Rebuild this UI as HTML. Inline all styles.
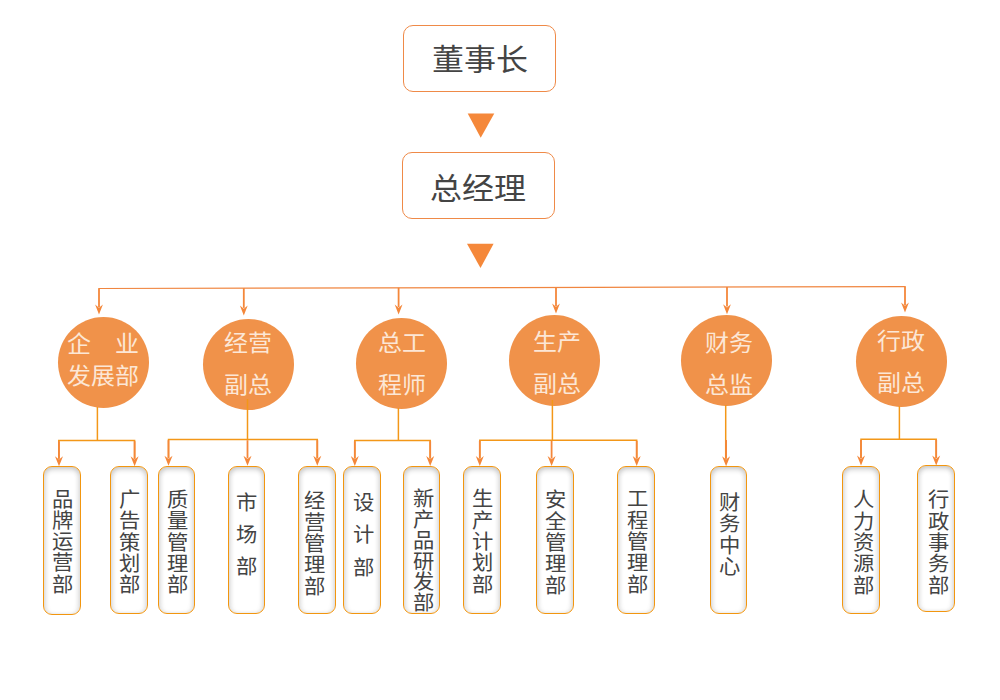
<!DOCTYPE html>
<html lang="zh-CN"><head><meta charset="utf-8">
<style>
html,body{margin:0;padding:0;background:#fff;}
body{width:1000px;height:700px;position:relative;overflow:hidden;font-family:"Liberation Serif",serif;}
.big{position:absolute;box-sizing:border-box;border:1.5px solid #EF8A48;border-radius:10px;background:#fff;}
.bt{position:absolute;left:0;right:0;text-align:center;font-size:32px;line-height:32px;color:#444;white-space:nowrap;}
.circ{position:absolute;border-radius:50%;background:#F0924A;}
.ct{position:absolute;color:#FCE7D6;font-size:24px;line-height:24px;white-space:nowrap;text-align:center;}
.box{position:absolute;box-sizing:border-box;border:1.5px solid #F2960F;border-radius:9px;background:#fff;
 box-shadow:inset 0 3px 5px rgba(0,0,0,0.16), inset 3px 0 4px rgba(0,0,0,0.06), inset -3px 0 4px rgba(0,0,0,0.06);}
.vt{position:absolute;text-align:center;font-size:21.33px;color:#444;}
.vt span{display:block;transform:scaleY(0.94);}
.ct span{display:block;transform:scaleY(0.93);}
.bt span{display:block;transform:scaleY(0.93);}
svg{position:absolute;left:0;top:0;}
</style></head><body>

<svg width="1000" height="700" viewBox="0 0 1000 700"><line x1="98.4" y1="288.5" x2="905.6" y2="286.6" stroke="#F08640" stroke-width="1.2"/><line x1="99" y1="288.50" x2="99" y2="307.00" stroke="#F4873A" stroke-width="1.8"/><path d="M95.10,304.60 L99.00,314.60 L102.90,304.60 L99.00,307.80 Z" fill="#F4873A"/><line x1="243.8" y1="288.16" x2="243.8" y2="307.90" stroke="#F4873A" stroke-width="1.8"/><path d="M239.90,305.50 L243.80,315.50 L247.70,305.50 L243.80,308.70 Z" fill="#F4873A"/><line x1="398.6" y1="287.79" x2="398.6" y2="307.00" stroke="#F4873A" stroke-width="1.8"/><path d="M394.70,304.60 L398.60,314.60 L402.50,304.60 L398.60,307.80 Z" fill="#F4873A"/><line x1="556" y1="287.42" x2="556" y2="306.00" stroke="#F4873A" stroke-width="1.8"/><path d="M552.10,303.60 L556.00,313.60 L559.90,303.60 L556.00,306.80 Z" fill="#F4873A"/><line x1="727" y1="287.02" x2="727" y2="306.60" stroke="#F4873A" stroke-width="1.8"/><path d="M723.10,304.20 L727.00,314.20 L730.90,304.20 L727.00,307.40 Z" fill="#F4873A"/><line x1="905" y1="286.60" x2="905" y2="305.00" stroke="#F4873A" stroke-width="1.8"/><path d="M901.10,302.60 L905.00,312.60 L908.90,302.60 L905.00,305.80 Z" fill="#F4873A"/><polygon points="467.7,113.5 494.3,113.5 480.7,137.8" fill="#F5883A"/><polygon points="467,243.8 493.6,243.8 480.5,268" fill="#F5883A"/></svg>
<div class="big" style="left:403.4px;top:25.2px;width:152.4px;height:66.4px"><div class="bt" style="top:18px"><span>董事长</span></div></div>
<div class="big" style="left:402.2px;top:152.2px;width:152.6px;height:66.4px"><div class="bt" style="top:20px"><span>总经理</span></div></div>
<div class="circ" style="left:58.0px;top:317.0px;width:91.0px;height:91.0px"></div>
<div class="ct" style="left:63.2px;width:80px;top:328.5px;line-height:32px"><span>企&nbsp;&nbsp;&nbsp;&nbsp;业</span><span>发展部</span></div>
<div class="circ" style="left:202.5px;top:319.0px;width:91.0px;height:91.0px"></div>
<div class="ct" style="left:207.8px;width:80px;top:323.1px;line-height:42px"><span>经营</span><span>副总</span></div>
<div class="circ" style="left:356.0px;top:318.0px;width:91.0px;height:91.0px"></div>
<div class="ct" style="left:362.0px;width:80px;top:322.8px;line-height:42px"><span>总工</span><span>程师</span></div>
<div class="circ" style="left:509.0px;top:315.0px;width:91.0px;height:91.0px"></div>
<div class="ct" style="left:516.6px;width:80px;top:322.1px;line-height:42px"><span>生产</span><span>副总</span></div>
<div class="circ" style="left:681.0px;top:315.0px;width:91.0px;height:91.0px"></div>
<div class="ct" style="left:689.0px;width:80px;top:322.7px;line-height:42px"><span>财务</span><span>总监</span></div>
<div class="circ" style="left:856.0px;top:316.0px;width:91.0px;height:91.0px"></div>
<div class="ct" style="left:860.5px;width:80px;top:321.0px;line-height:42px"><span>行政</span><span>副总</span></div>
<svg width="1000" height="700" viewBox="0 0 1000 700"><line x1="97.4" y1="407" x2="97.4" y2="440.6" stroke="#F39718" stroke-width="1.5"/><polyline points="58.8,458.8 58.8,440.6 134.6,440.6 134.6,458.8" fill="none" stroke="#F39718" stroke-width="1.5"/><line x1="59" y1="441.20000000000005" x2="59" y2="458.8" stroke="#F4873A" stroke-width="1.8"/><path d="M55.00,456.30 L59.00,466.30 L63.00,456.30 L59.00,459.50 Z" fill="#F4873A"/><line x1="134.6" y1="441.20000000000005" x2="134.6" y2="458.8" stroke="#F4873A" stroke-width="1.8"/><path d="M130.60,456.30 L134.60,466.30 L138.60,456.30 L134.60,459.50 Z" fill="#F4873A"/><line x1="247.5" y1="399" x2="247.5" y2="439.6" stroke="#F39718" stroke-width="1.5"/><polyline points="168.5,458.3 168.5,439.6 317.3,439.6 317.3,458.3" fill="none" stroke="#F39718" stroke-width="1.5"/><line x1="168.5" y1="440.20000000000005" x2="168.5" y2="458.3" stroke="#F4873A" stroke-width="1.8"/><path d="M164.50,455.80 L168.50,465.80 L172.50,455.80 L168.50,459.00 Z" fill="#F4873A"/><line x1="247.5" y1="440.20000000000005" x2="247.5" y2="458.3" stroke="#F4873A" stroke-width="1.8"/><path d="M243.50,455.80 L247.50,465.80 L251.50,455.80 L247.50,459.00 Z" fill="#F4873A"/><line x1="317.3" y1="440.20000000000005" x2="317.3" y2="458.3" stroke="#F4873A" stroke-width="1.8"/><path d="M313.30,455.80 L317.30,465.80 L321.30,455.80 L317.30,459.00 Z" fill="#F4873A"/><line x1="398.4" y1="408" x2="398.4" y2="440.6" stroke="#F39718" stroke-width="1.5"/><polyline points="354.8,458.5 354.8,440.6 430.2,440.6 430.2,458.5" fill="none" stroke="#F39718" stroke-width="1.5"/><line x1="354.8" y1="441.20000000000005" x2="354.8" y2="458.5" stroke="#F4873A" stroke-width="1.8"/><path d="M350.80,456.00 L354.80,466.00 L358.80,456.00 L354.80,459.20 Z" fill="#F4873A"/><line x1="430.2" y1="441.20000000000005" x2="430.2" y2="458.5" stroke="#F4873A" stroke-width="1.8"/><path d="M426.20,456.00 L430.20,466.00 L434.20,456.00 L430.20,459.20 Z" fill="#F4873A"/><line x1="552.4" y1="400" x2="552.4" y2="440.3" stroke="#F39718" stroke-width="1.5"/><polyline points="479.8,458.5 479.8,440.3 636.7,440.3 636.7,458.5" fill="none" stroke="#F39718" stroke-width="1.5"/><line x1="479.8" y1="440.90000000000003" x2="479.8" y2="458.5" stroke="#F4873A" stroke-width="1.8"/><path d="M475.80,456.00 L479.80,466.00 L483.80,456.00 L479.80,459.20 Z" fill="#F4873A"/><line x1="551.6" y1="440.90000000000003" x2="551.6" y2="458.5" stroke="#F4873A" stroke-width="1.8"/><path d="M547.60,456.00 L551.60,466.00 L555.60,456.00 L551.60,459.20 Z" fill="#F4873A"/><line x1="636.7" y1="440.90000000000003" x2="636.7" y2="458.5" stroke="#F4873A" stroke-width="1.8"/><path d="M632.70,456.00 L636.70,466.00 L640.70,456.00 L636.70,459.20 Z" fill="#F4873A"/><line x1="725.7" y1="405" x2="725.7" y2="458.7" stroke="#F39718" stroke-width="1.5"/><line x1="726.1" y1="440" x2="726.1" y2="458.7" stroke="#F4873A" stroke-width="1.8"/><path d="M722.10,456.20 L726.10,466.20 L730.10,456.20 L726.10,459.40 Z" fill="#F4873A"/><line x1="899.4" y1="406" x2="899.4" y2="439.3" stroke="#F39718" stroke-width="1.5"/><polyline points="861,458.0 861,439.3 936.2,439.3 936.2,458.0" fill="none" stroke="#F39718" stroke-width="1.5"/><line x1="861" y1="439.90000000000003" x2="861" y2="458.0" stroke="#F4873A" stroke-width="1.8"/><path d="M857.00,455.50 L861.00,465.50 L865.00,455.50 L861.00,458.70 Z" fill="#F4873A"/><line x1="936.2" y1="439.90000000000003" x2="936.2" y2="458.0" stroke="#F4873A" stroke-width="1.8"/><path d="M932.20,455.50 L936.20,465.50 L940.20,455.50 L936.20,458.70 Z" fill="#F4873A"/></svg>
<div class="box" style="left:43.3px;top:466.0px;width:37.3px;height:148.6px"></div>
<div class="vt" style="left:47.45px;width:30px;top:489.5px;line-height:21.33px"><span>品</span><span>牌</span><span>运</span><span>营</span><span>部</span></div>
<div class="box" style="left:110.4px;top:466.0px;width:37.2px;height:148.0px"></div>
<div class="vt" style="left:114.70px;width:30px;top:490.0px;line-height:21.33px"><span>广</span><span>告</span><span>策</span><span>划</span><span>部</span></div>
<div class="box" style="left:158.2px;top:466.0px;width:37.2px;height:148.0px"></div>
<div class="vt" style="left:162.30px;width:30px;top:490.1px;line-height:21.33px"><span>质</span><span>量</span><span>管</span><span>理</span><span>部</span></div>
<div class="box" style="left:227.8px;top:466.0px;width:37.0px;height:147.8px"></div>
<div class="vt" style="left:231.50px;width:30px;top:486.5px;line-height:32px"><span>市</span><span>场</span><span>部</span></div>
<div class="box" style="left:298.2px;top:466.0px;width:37.4px;height:148.0px"></div>
<div class="vt" style="left:299.80px;width:30px;top:491.4px;line-height:21.33px"><span>经</span><span>营</span><span>管</span><span>理</span><span>部</span></div>
<div class="box" style="left:343.2px;top:466.0px;width:37.4px;height:147.8px"></div>
<div class="vt" style="left:348.10px;width:30px;top:486.9px;line-height:32.5px"><span>设</span><span>计</span><span>部</span></div>
<div class="box" style="left:403.3px;top:466.0px;width:37.1px;height:147.6px"></div>
<div class="vt" style="left:408.55px;width:30px;top:488.8px;line-height:20.9px"><span>新</span><span>产</span><span>品</span><span>研</span><span>发</span><span>部</span></div>
<div class="box" style="left:463.2px;top:466.3px;width:37.4px;height:147.3px"></div>
<div class="vt" style="left:467.60px;width:30px;top:489.4px;line-height:21.33px"><span>生</span><span>产</span><span>计</span><span>划</span><span>部</span></div>
<div class="box" style="left:536.2px;top:466.3px;width:37.6px;height:147.3px"></div>
<div class="vt" style="left:540.70px;width:30px;top:490.2px;line-height:21.33px"><span>安</span><span>全</span><span>管</span><span>理</span><span>部</span></div>
<div class="box" style="left:617.4px;top:466.3px;width:37.2px;height:147.6px"></div>
<div class="vt" style="left:622.20px;width:30px;top:489.2px;line-height:21.33px"><span>工</span><span>程</span><span>管</span><span>理</span><span>部</span></div>
<div class="box" style="left:710.4px;top:466.0px;width:37.0px;height:147.9px"></div>
<div class="vt" style="left:714.40px;width:30px;top:493.1px;line-height:21.33px"><span>财</span><span>务</span><span>中</span><span>心</span></div>
<div class="box" style="left:842.3px;top:466.0px;width:37.4px;height:147.9px"></div>
<div class="vt" style="left:848.40px;width:30px;top:490.2px;line-height:21.33px"><span>人</span><span>力</span><span>资</span><span>源</span><span>部</span></div>
<div class="box" style="left:917.3px;top:465.0px;width:37.4px;height:147.4px"></div>
<div class="vt" style="left:923.00px;width:30px;top:490.2px;line-height:21.33px"><span>行</span><span>政</span><span>事</span><span>务</span><span>部</span></div>
</body></html>
